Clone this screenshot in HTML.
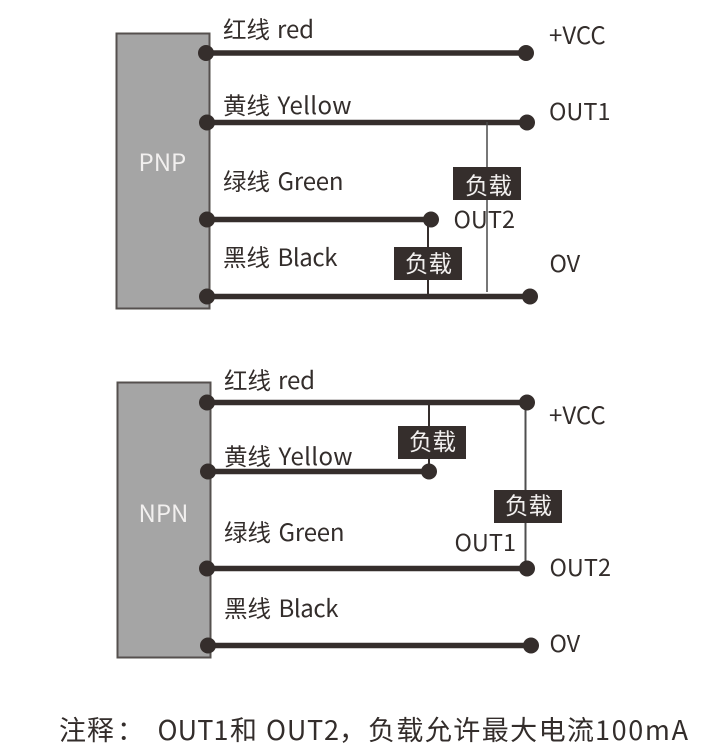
<!DOCTYPE html>
<html><head><meta charset="utf-8"><style>
html,body{margin:0;padding:0;background:#fff;width:705px;height:753px;overflow:hidden}
svg{display:block}
text{font-family:"Noto Sans CJK SC","Liberation Sans",sans-serif;fill:#332d2b;font-size:23.5px}
.l{font-size:24px}
.f{font-size:27px}
.w{fill:#f2f0ef}
</style></head><body>
<svg width="705" height="753" viewBox="0 0 705 753" xmlns="http://www.w3.org/2000/svg">
<rect x="116.5" y="33.5" width="93" height="275" fill="#a5a5a5" stroke="#55504e" stroke-width="2"/>
<g stroke="#352e2c" stroke-width="5.5">
<line x1="206" y1="53" x2="526" y2="53"/>
<line x1="207" y1="122.500" x2="527" y2="122.500"/>
<line x1="207" y1="219.500" x2="431" y2="219.500"/>
<line x1="207" y1="296.500" x2="530" y2="296.500"/>
</g>
<line x1="487" y1="122" x2="487" y2="292" stroke="#4a4a4a" stroke-width="1.5"/>
<line x1="428" y1="219" x2="428" y2="296" stroke="#352e2c" stroke-width="2"/>
<g fill="#352e2c">
<circle cx="206" cy="53" r="8"/><circle cx="526" cy="53" r="8"/>
<circle cx="207" cy="122.500" r="8"/><circle cx="527" cy="122.500" r="8"/>
<circle cx="207" cy="219.500" r="8"/><circle cx="431" cy="219.500" r="8"/>
<circle cx="207" cy="296.500" r="8"/><circle cx="530" cy="296.500" r="8"/>
<rect x="453" y="167" width="68" height="33"/>
<rect x="394" y="247" width="68" height="33"/>
</g>
<text class="w l" x="138.500" y="171">PNP</text>
<text x="223" y="38">红线</text><text class="l" x="277" y="38" textLength="37">red</text>
<text x="223" y="114">黄线</text><text class="l" x="277.500" y="114" textLength="74">Yellow</text>
<text x="223" y="190">绿线</text><text class="l" x="277.500" y="190" textLength="66">Green</text>
<text x="223" y="266">黑线</text><text class="l" x="277.500" y="266" textLength="60">Black</text>
<text class="l" x="549" y="44">+VCC</text>
<text x="549" y="120">OUT1</text>
<text x="453.500" y="228">OUT2</text>
<text x="549.500" y="272">OV</text>
<text class="w" x="465" y="194">负载</text>
<text class="w" x="405" y="272">负载</text>

<rect x="117.500" y="382.500" width="93" height="275" fill="#a5a5a5" stroke="#55504e" stroke-width="2"/>
<g stroke="#352e2c" stroke-width="5.500">
<line x1="207" y1="402.500" x2="527" y2="402.500"/>
<line x1="208" y1="471.500" x2="429" y2="471.500"/>
<line x1="207" y1="568.500" x2="527" y2="568.500"/>
<line x1="208" y1="645.500" x2="531" y2="645.500"/>
</g>
<line x1="525.500" y1="402" x2="525.500" y2="568" stroke="#4f4f4f" stroke-width="2"/>
<line x1="429" y1="402" x2="429" y2="471" stroke="#352e2c" stroke-width="2"/>
<g fill="#352e2c">
<circle cx="207" cy="402.500" r="8"/><circle cx="527" cy="402.500" r="8"/>
<circle cx="208" cy="471.500" r="8"/><circle cx="429" cy="471.500" r="8"/>
<circle cx="207" cy="568.500" r="8"/><circle cx="527" cy="568.500" r="8"/>
<circle cx="208" cy="645.500" r="8"/><circle cx="531" cy="645.500" r="8"/>
<rect x="398" y="426" width="68" height="33"/>
<rect x="494" y="490" width="68" height="33"/>
</g>
<text class="w l" x="138.500" y="522">NPN</text>
<text x="224" y="389">红线</text><text class="l" x="278" y="389" textLength="37">red</text>
<text x="224" y="465">黄线</text><text class="l" x="278.500" y="465" textLength="74">Yellow</text>
<text x="224" y="541">绿线</text><text class="l" x="278.500" y="541" textLength="66">Green</text>
<text x="224" y="617">黑线</text><text class="l" x="278.500" y="617" textLength="60">Black</text>
<text class="l" x="549" y="424">+VCC</text>
<text x="454.500" y="551">OUT1</text>
<text x="549.500" y="576">OUT2</text>
<text x="549.500" y="652">OV</text>
<text class="w" x="409" y="450">负载</text>
<text class="w" x="505" y="514">负载</text>

<text class="f" x="59" y="740" textLength="55">注释</text>
<text class="f" x="117" y="740">：</text>
<text class="f" x="157.500" y="740" textLength="71">OUT1</text>
<text class="f" x="230" y="740">和</text>
<text class="f" x="266" y="740" textLength="73">OUT2</text>
<text class="f" x="339" y="740">，</text>
<text class="f" x="368" y="740" textLength="226">负载允许最大电流</text>
<text class="f" x="595" y="740" textLength="93">100mA</text>
</svg>
</body></html>
